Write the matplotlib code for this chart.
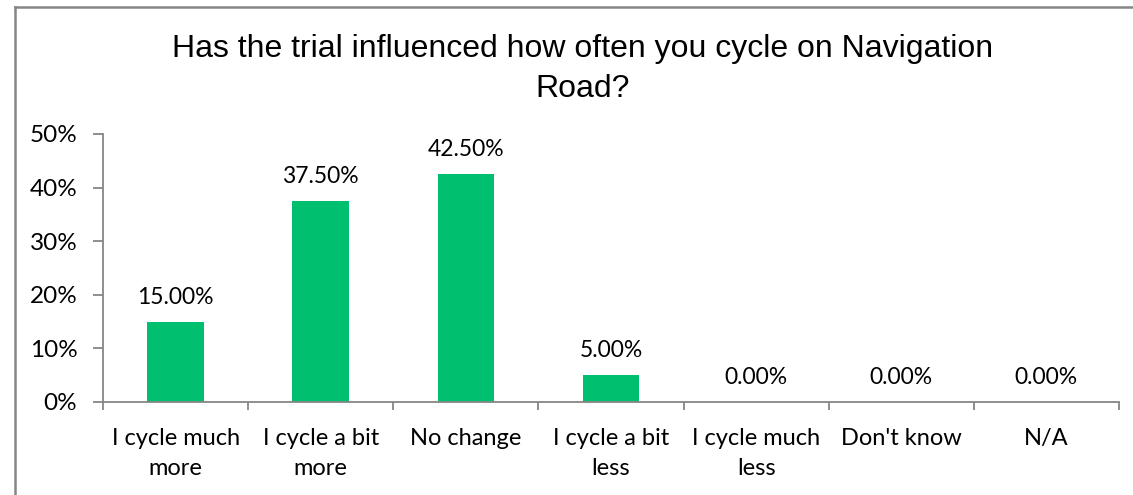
import matplotlib
matplotlib.use("Agg")
import matplotlib.pyplot as plt
from matplotlib.lines import Line2D

categories = ["I cycle much\nmore", "I cycle a bit\nmore", "No change", "I cycle a bit\nless",
              "I cycle much\nless", "Don't know", "N/A"]
values = [15.0, 37.5, 42.5, 5.0, 0.0, 0.0, 0.0]
yticks = [0, 10, 20, 30, 40, 50]
title = "Has the trial influenced how often you cycle on Navigation\nRoad?"

W, H = 1133, 495
fig = plt.figure(figsize=(W / 100, H / 100), dpi=100)
ax = fig.add_axes([103 / W, 1 - 402 / H, (1119 - 103) / W, (402 - 134) / H])

label_font = "Lato"
x = list(range(len(categories)))
ax.bar(x, values, width=0.39, color="#00BF6F", zorder=2)
ax.set_xlim(-0.5, len(categories) - 0.5)
ax.set_ylim(0, 50)

for xi, v in zip(x, values):
    ax.annotate(f"{v:.2f}%", (xi, v), xytext=(0, 10), textcoords="offset points",
                ha="center", va="bottom", fontsize=16.5, family=label_font, color="#000000")

ax.set_yticks(yticks)
ax.set_yticklabels([f"{t}%" for t in yticks], fontsize=17.5, family=label_font)
ax.set_xticks([i - 0.5 for i in range(len(categories) + 1)], minor=False)
ax.set_xticklabels([])
ax.set_xticks(x, minor=True)
ax.set_xticklabels(categories, minor=True, fontsize=17, family=label_font, linespacing=1.5)
ax.tick_params(axis="x", which="minor", length=0, pad=19)
ax.tick_params(axis="x", which="major", length=6, color="#868686", width=1.3)
ax.tick_params(axis="y", length=7, color="#868686", width=1.3, pad=11.5)

for s in ["top", "right"]:
    ax.spines[s].set_visible(False)
for s in ["left", "bottom"]:
    ax.spines[s].set_color("#868686")
    ax.spines[s].set_linewidth(1.3)

fig.text(583 / W, 1 - 69 / H, title, ha="center", va="center", fontsize=23,
         family="Liberation Sans", linespacing=1.45)

# figure border (top and left visible)
fig.add_artist(Line2D([14.5 / W, 14.5 / W], [0, 1 - 6.5 / H], transform=fig.transFigure,
                      color="#868686", lw=1.8))
fig.add_artist(Line2D([14.5 / W, 1], [1 - 6.5 / H, 1 - 6.5 / H], transform=fig.transFigure,
                      color="#868686", lw=1.8))

fig.savefig("out.png", dpi=100)
